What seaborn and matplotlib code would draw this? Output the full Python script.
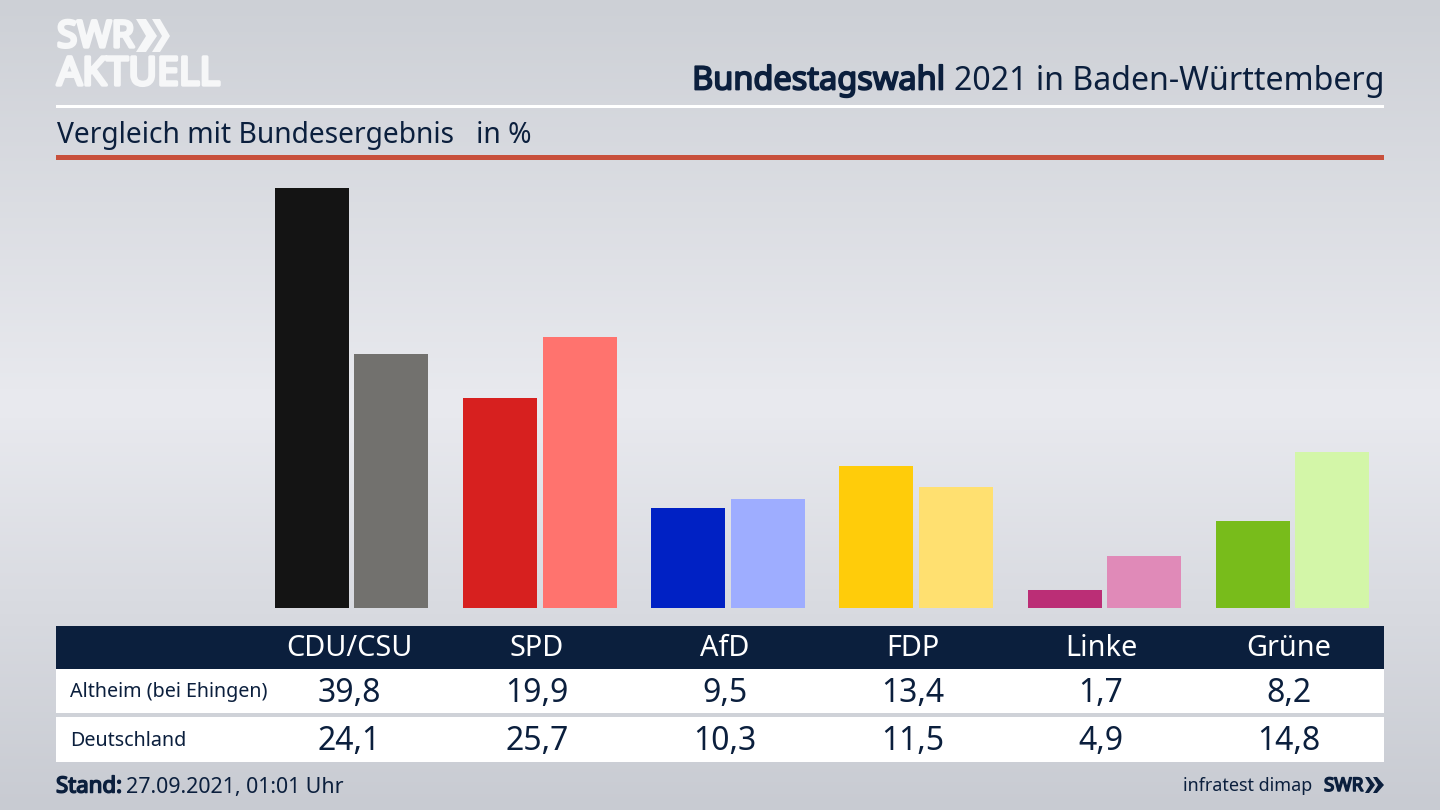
import numpy as np
import pandas as pd
import matplotlib
matplotlib.use("Agg")
import matplotlib.pyplot as plt
import matplotlib.patheffects as pe
from matplotlib.colors import LinearSegmentedColormap
from matplotlib.patches import Rectangle, Polygon
import seaborn as sns

# data
parteien = ["CDU/CSU", "SPD", "AfD", "FDP", "Linke", "Grüne"]
altheim = [39.8, 19.9, 9.5, 13.4, 1.7, 8.2]
deutschland = [24.1, 25.7, 10.3, 11.5, 4.9, 14.8]
altheim_labels = ["39,8", "19,9", "9,5", "13,4", "1,7", "8,2"]
deutschland_labels = ["24,1", "25,7", "10,3", "11,5", "4,9", "14,8"]
farben_altheim = ["#141414", "#d7201f", "#0021c4", "#ffcc0a", "#bb2e76", "#78bc1b"]
farben_deutschland = ["#72716e", "#ff736e", "#9eadff", "#ffe070", "#e08ab8", "#d3f6a8"]

NAVY = "#0b1f3d"
RED = "#c8503c"

sns.set_theme(style="white")
plt.rcParams["font.family"] = ["Noto Sans", "DejaVu Sans"]


def fett(farbe, breite):
    # the installed Noto Sans renders regular only, so thicken the outline
    return [pe.withStroke(linewidth=breite, foreground=farbe)]


fig = plt.figure(figsize=(14.4, 8.1), dpi=100)

# background + all furniture, in pixel coordinates
bg = fig.add_axes([0, 0, 1, 1], zorder=0)
bg.axis("off")
cmap = LinearSegmentedColormap.from_list("bg", ["#cdd0d6", "#e9eaef", "#c8cbd2"])
bg.imshow(np.linspace(0, 1, 256).reshape(-1, 1), cmap=cmap, aspect="auto",
          extent=[0, 1440, 810, 0], zorder=0)
bg.set_xlim(0, 1440)
bg.set_ylim(810, 0)

bg.add_patch(Rectangle((56, 104.5), 1328, 3, color="white", lw=0))
bg.add_patch(Rectangle((56, 155), 1328, 5, color=RED, lw=0))

# logo
bg.text(57, 38, "SWR", color="#f6f7f8", fontsize=26.5, va="center", ha="left",
        path_effects=fett("#f6f7f8", 2.4))
bg.add_patch(Polygon([(136, 19), (146, 19), (157, 36), (146, 52), (136, 52), (146, 36)], color="#f6f7f8", lw=0))
bg.add_patch(Polygon([(152, 19), (160, 19), (170, 36), (160, 52), (152, 52), (162, 36)], color="#f6f7f8", lw=0))
bg.text(57, 75, "AKTUELL", color="#f6f7f8", fontsize=28.3, va="center", ha="left",
        path_effects=fett("#f6f7f8", 2.4))

# heading
bg.text(945, 81, "Bundestagswahl", color=NAVY, fontsize=23.4, va="center", ha="right",
        path_effects=fett(NAVY, 1.3))
bg.text(1384, 81, "2021 in Baden-Württemberg", color=NAVY, fontsize=23.1, va="center", ha="right")
bg.text(57, 135, "Vergleich mit Bundesergebnis   in %", color=NAVY, fontsize=20.3, va="center", ha="left")

# table
bg.add_patch(Rectangle((56, 626), 1328, 42.5, color=NAVY, lw=0))
bg.add_patch(Rectangle((56, 668.5), 1328, 44.5, color="white", lw=0))
bg.add_patch(Rectangle((56, 717), 1328, 45, color="white", lw=0))
bg.text(70.5, 692, "Altheim (bei Ehingen)", color=NAVY, fontsize=14.2, va="center", ha="left")
bg.text(70.5, 741, "Deutschland", color=NAVY, fontsize=14.2, va="center", ha="left")
for i, partei in enumerate(parteien):
    x = 349 + 188 * i
    bg.text(x, 648.5, partei, color="white", fontsize=20.8, va="center", ha="center")
    bg.text(x, 693, altheim_labels[i], color=NAVY, fontsize=23, va="center", ha="center")
    bg.text(x, 742, deutschland_labels[i], color=NAVY, fontsize=23, va="center", ha="center")

# footer
bg.text(56, 787, "Stand:", color=NAVY, fontsize=16, va="center", ha="left", path_effects=fett(NAVY, 1.1))
bg.text(126, 787, "27.09.2021, 01:01 Uhr", color=NAVY, fontsize=15.4, va="center", ha="left")
bg.text(1312, 786, "infratest dimap", color=NAVY, fontsize=12.9, va="center", ha="right")
bg.text(1324, 786, "SWR", color=NAVY, fontsize=13.5, va="center", ha="left", path_effects=fett(NAVY, 1.1))
bg.add_patch(Polygon([(1365, 777), (1369, 777), (1375, 785), (1369, 793), (1365, 793), (1370, 785)], color=NAVY, lw=0))
bg.add_patch(Polygon([(1373, 777), (1377, 777), (1384, 785), (1377, 793), (1373, 793), (1378, 785)], color=NAVY, lw=0))

# bars
df = pd.DataFrame({
    "partei": parteien * 2,
    "wert": altheim + deutschland,
    "reihe": ["Altheim"] * 6 + ["Deutschland"] * 6,
})
left, right, top, bottom = 257.5, 1386.7, 165, 608
ax = fig.add_axes([left / 1440, 1 - bottom / 810, (right - left) / 1440, (bottom - top) / 810],
                  zorder=1)
ax.patch.set_alpha(0)
sns.barplot(data=df, x="partei", y="wert", hue="reihe", order=parteien, width=0.845, gap=0.07,
            dodge=True, legend=False, ax=ax, errorbar=None, saturation=1)
for cont, farben in zip(ax.containers, [farben_altheim, farben_deutschland]):
    for bar, farbe in zip(cont, farben):
        bar.set_facecolor(farbe)
        bar.set_edgecolor("none")
ax.set_xlim(-0.5, 5.5)
ax.set_ylim(0, (bottom - top) / 10.56)
ax.axis("off")

fig.savefig("out.png", dpi=100)
